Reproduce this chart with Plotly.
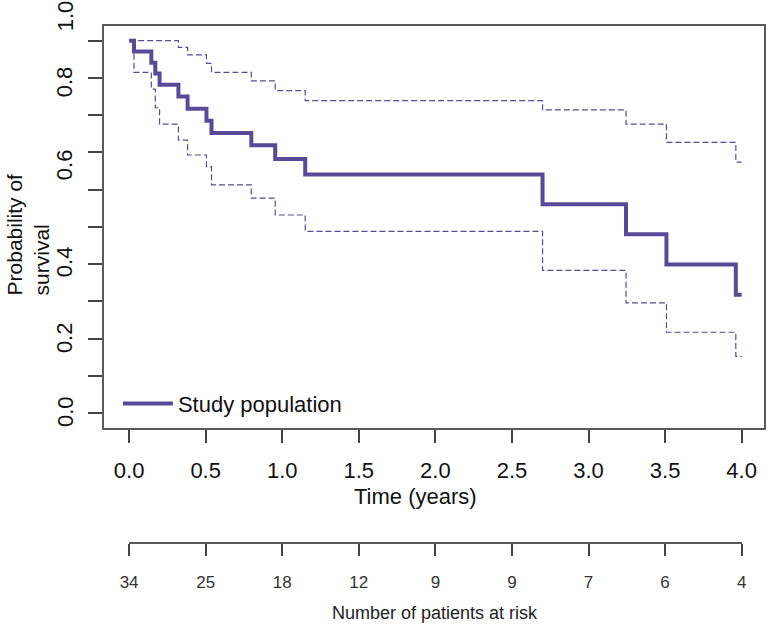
import plotly.graph_objects as go

# ---- data ----
event_times = [0.0, 0.032, 0.145, 0.171, 0.199, 0.322, 0.382, 0.505, 0.538,
               0.798, 0.954, 1.150, 2.700, 3.245, 3.509, 3.962, 4.0]
survival = [1.0, 0.971, 0.941, 0.912, 0.882, 0.850, 0.817, 0.785, 0.752,
            0.719, 0.682, 0.641, 0.561, 0.480, 0.399, 0.318, 0.318]
upper_ci = [1.0, 1.0, 1.0, 1.0, 1.0, 0.982, 0.962, 0.939, 0.915,
            0.892, 0.866, 0.839, 0.814, 0.776, 0.727, 0.674, 0.674]
lower_ci = [1.0, 0.915, 0.870, 0.820, 0.776, 0.733, 0.693, 0.662, 0.613,
            0.577, 0.532, 0.488, 0.383, 0.296, 0.217, 0.152, 0.152]

x_ticks = [0.0, 0.5, 1.0, 1.5, 2.0, 2.5, 3.0, 3.5, 4.0]
x_tick_labels = ["0.0", "0.5", "1.0", "1.5", "2.0", "2.5", "3.0", "3.5", "4.0"]
at_risk = ["34", "25", "18", "12", "9", "9", "7", "6", "4"]
y_ticks = [0.0, 0.1, 0.2, 0.3, 0.4, 0.5, 0.6, 0.7, 0.8, 0.9, 1.0]
y_tick_labels = ["0.0", "0.2", "0.4", "0.6", "0.8", "1.0"]

# ---- style / layout ----
W, H = 771, 624
L, R, T, B = 104, 2, 26, 81.7
PH = H - T - B
def py(p):  # pixel y -> paper y
    return (H - B - p) / PH
def px(p):  # pixel x -> paper x
    return (p - L) / (W - L - R)

purple = "#594a97"
axcol = "#5a5a5a"
font = "Liberation Sans, Arial, sans-serif"
FS = 22
# label positions as seen in reference (pixel rows)
y_label_rows = [412, 338, 262, 165, 82, 16]

fig = go.Figure()
fig.add_trace(go.Scatter(x=event_times, y=upper_ci, mode="lines", line_shape="hv",
                         line=dict(color=purple, width=1.2, dash="6px,3px"),
                         showlegend=False, hoverinfo="skip"))
fig.add_trace(go.Scatter(x=event_times, y=lower_ci, mode="lines", line_shape="hv",
                         line=dict(color=purple, width=1.2, dash="6px,3px"),
                         showlegend=False, hoverinfo="skip"))
fig.add_trace(go.Scatter(x=event_times, y=survival, mode="lines", line_shape="hv",
                         line=dict(color=purple, width=4),
                         name="Study population"))
# dummy trace to hold the at-risk axis
fig.add_trace(go.Scatter(x=[0], y=[0], xaxis="x2", yaxis="y2", mode="markers",
                         marker=dict(opacity=0), showlegend=False, hoverinfo="skip"))

annotations = []
for lab, row in zip(y_tick_labels, y_label_rows):
    annotations.append(dict(text=lab, xref="paper", yref="paper", x=px(65), y=py(row),
                            textangle=-90, showarrow=False, xanchor="center", yanchor="middle",
                            font=dict(size=FS, color="#111", family=font)))
annotations.append(dict(text="Probability of<br>survival", xref="paper", yref="paper",
                        x=px(27), y=py(235), textangle=-90, align="left", showarrow=False,
                        xanchor="center", yanchor="middle",
                        font=dict(size=21, color="#111", family=font)))
annotations.append(dict(text="Time (years)", xref="paper", yref="paper",
                        x=px(417.5), y=py(496.7), showarrow=False,
                        xanchor="center", yanchor="middle",
                        font=dict(size=FS, color="#111", family=font)))
annotations.append(dict(text="Number of patients at risk", xref="paper", yref="paper",
                        x=px(437.7), y=py(613.3), showarrow=False,
                        xanchor="center", yanchor="middle",
                        font=dict(size=18, color="#222", family=font)))

fig.update_layout(
    width=W, height=H,
    margin=dict(l=L, r=R, t=T, b=B),
    paper_bgcolor="white", plot_bgcolor="white",
    font=dict(family=font, color="#111"),
    xaxis=dict(range=[-0.164, 4.146], tickvals=x_ticks, ticktext=x_tick_labels,
               showgrid=False, zeroline=False, showline=True, mirror=True,
               linecolor=axcol, linewidth=1.5, ticks="outside", ticklen=13,
               tickcolor="#444", tickwidth=1.5, ticklabelstandoff=9,
               tickfont=dict(size=FS, color="#111", family=font), anchor="y"),
    yaxis=dict(range=[-0.0408, 1.0395], domain=[(H - B - 428.5) / PH, 1],
               tickvals=y_ticks, showticklabels=False,
               showgrid=False, zeroline=False, showline=True, mirror=True,
               linecolor=axcol, linewidth=1.5, ticks="outside", ticklen=14,
               tickcolor="#444", tickwidth=1.5, anchor="x"),
    xaxis2=dict(range=[0, 4.0], domain=[px(129.3), px(746.5)], anchor="y2",
                tickvals=x_ticks, ticktext=at_risk, showgrid=False, zeroline=False,
                showline=True, linecolor=axcol, linewidth=1.5, ticks="outside",
                ticklen=12, tickcolor="#444", tickwidth=1.5, ticklabelstandoff=12,
                tickfont=dict(size=17, color="#333", family=font)),
    yaxis2=dict(domain=[0, 0.01], visible=False, anchor="x2"),
    legend=dict(x=px(118), y=py(404), xanchor="left", yanchor="middle", itemwidth=50,
                bgcolor="rgba(0,0,0,0)", font=dict(size=FS, color="#111", family=font)),
    annotations=annotations,
)

fig.write_html("out.html")
